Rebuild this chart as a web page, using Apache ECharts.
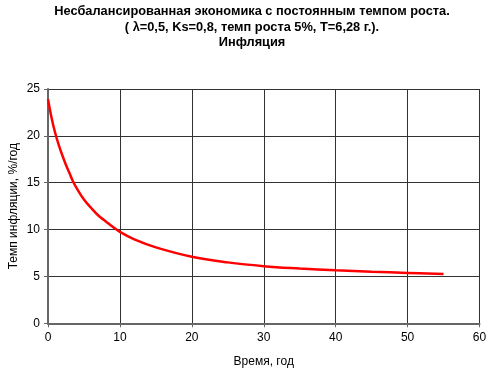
<!DOCTYPE html>
<html>
<head>
<meta charset="utf-8">
<script src="https://cdn.jsdelivr.net/npm/echarts@6/dist/echarts.min.js"></script>
<style>
html,body{margin:0;padding:0;background:#fff;}
#c{width:488px;height:374px;}
</style>
</head>
<body>
<div id="c"></div>
<script>
var years = [0, 0.5, 1, 1.5, 2, 2.5, 3, 3.5, 4, 5, 6, 7, 8, 9, 10, 12, 15, 20, 25, 30, 35, 40, 45, 50, 55];
var inflation = [23.9, 21.9, 20.3, 19.0, 17.9, 16.9, 16.0, 15.1, 14.4, 13.2, 12.3, 11.5, 10.9, 10.3, 9.75, 8.95, 8.1, 7.1, 6.5, 6.1, 5.85, 5.65, 5.5, 5.38, 5.27];
var titleLines = ["Несбалансированная экономика с постоянным темпом роста.", "( λ=0,5, Ks=0,8, темп роста 5%, T=6,28 г.).", "Инфляция"];
var xName = "Время, год";
var yName = "Темп инфляции, %/год";

var chart = echarts.init(document.getElementById('c'), null, {renderer: 'canvas'});
var font = 'Liberation Sans, Arial, sans-serif';
var pts = years.map(function (t, i) { return [t, inflation[i]]; });
chart.setOption({
  animation: false,
  backgroundColor: '#fff',
  graphic: [{
    type: 'text', x: 252, y: 4,
    style: {
      text: titleLines.join('\n'), textAlign: 'center',
      font: 'bold 12.8px ' + font, fill: '#000', lineHeight: 15.5
    }
  }],
  grid: {left: 48, right: 8.5, top: 89, bottom: 50.7, containLabel: false, outerBoundsMode: 'none'},
  xAxis: {
    type: 'value', min: 0, max: 60, interval: 10,
    name: xName, nameLocation: 'middle', nameGap: 32, nameMoveOverlap: false,
    nameTextStyle: {fontFamily: font, fontSize: 12, color: '#000'},
    axisLine: {show: true, onZero: false, lineStyle: {color: '#666', width: 2}},
    axisTick: {show: true, length: 4, lineStyle: {color: '#666', width: 1}},
    axisLabel: {fontFamily: font, fontSize: 12, color: '#000', margin: 8},
    splitLine: {show: true, lineStyle: {color: '#333', width: 1}}
  },
  yAxis: {
    type: 'value', min: 0, max: 25, interval: 5,
    name: yName, nameLocation: 'middle', nameGap: 28, nameRotate: 90, nameMoveOverlap: false,
    nameTextStyle: {fontFamily: font, fontSize: 12, color: '#000'},
    axisLine: {show: true, onZero: false, lineStyle: {color: '#666', width: 2}},
    axisTick: {show: true, length: 4, lineStyle: {color: '#666', width: 1}},
    axisLabel: {fontFamily: font, fontSize: 12, color: '#000', margin: 8},
    splitLine: {show: true, lineStyle: {color: '#333', width: 1}}
  },
  series: [{
    type: 'line', data: pts, smooth: 0.4, showSymbol: false,
    lineStyle: {color: '#ff0000', width: 2.5}
  }]
});
</script>
</body>
</html>
